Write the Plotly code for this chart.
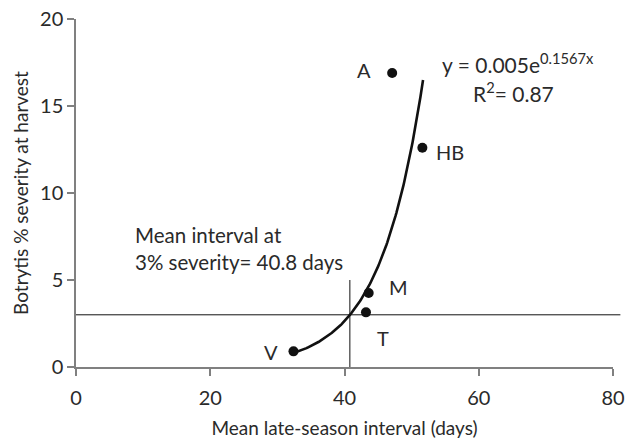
import plotly.graph_objects as go
import numpy as np

# Data points (site codes)
sites = ["A", "HB", "M", "T", "V"]
interval_days = [47.1, 51.6, 43.6, 43.2, 32.4]
severity_pct = [16.9, 12.6, 4.25, 3.14, 0.90]

# Exponential trendline from the chart: y = 0.005 e^(0.1567 x)
fit_a = 0.005
fit_b = 0.1567
fit_x_start = 32.4
fit_x_end = 51.7

# Reference lines
severity_threshold = 3.0
interval_at_threshold = 40.8
vline_top = 5.0
hline_x_end = 81.1

x_ticks = [0, 20, 40, 60, 80]
y_ticks = [0, 5, 10, 15, 20]
x_range = [0, 80]
y_range = [0, 20]

FONT = "Lato"
TXT = "#2a2a2a"
AX = "#808080"

fit_x = np.linspace(fit_x_start, fit_x_end, 200)
fit_y = fit_a * np.exp(fit_b * fit_x)

fig = go.Figure()

fig.add_trace(go.Scatter(
    x=[interval_at_threshold, interval_at_threshold], y=[0, vline_top],
    mode="lines", line=dict(color="#111111", width=1), hoverinfo="skip"))

fig.add_trace(go.Scatter(
    x=fit_x, y=fit_y, mode="lines",
    line=dict(color="#111111", width=2.6), hoverinfo="skip"))

fig.add_trace(go.Scatter(
    x=interval_days, y=severity_pct, mode="markers",
    marker=dict(color="#111111", size=10), text=sites))

fig.add_shape(type="line", xref="paper", yref="paper",
              x0=0, x1=hline_x_end / x_range[1],
              y0=severity_threshold / y_range[1], y1=severity_threshold / y_range[1],
              line=dict(color="#111111", width=1))

# point labels: (xanchor, xshift, yshift)
label_pos = {
    "A": ("right", -19, 3),
    "HB": ("left", 12, -4),
    "M": ("left", 18, 6),
    "T": ("left", 9, -26),
    "V": ("right", -13, -1),
}
for s, xv, yv in zip(sites, interval_days, severity_pct):
    anc, xs, ys = label_pos[s]
    fig.add_annotation(x=xv, y=yv, text=s, showarrow=False, xanchor=anc,
                       yanchor="middle", xshift=xs, yshift=ys,
                       font=dict(family=FONT, size=20, color=TXT))

fig.add_annotation(x=54.2, y=17.45, xanchor="left", yanchor="middle",
                   text="y = 0.005e<sup>0.1567x</sup>", showarrow=False,
                   font=dict(family=FONT, size=21, color=TXT))
fig.add_annotation(x=58.9, y=15.8, xanchor="left", yanchor="middle",
                   text="R<sup>2</sup>= 0.87", showarrow=False,
                   font=dict(family=FONT, size=21, color=TXT))
fig.add_annotation(x=8.5, y=6.82, xanchor="left", yanchor="middle", align="left",
                   text="Mean interval at<br>3% severity= 40.8 days", showarrow=False,
                   font=dict(family=FONT, size=20.5, color=TXT))

fig.update_layout(
    width=639, height=443,
    margin=dict(l=76, r=26, t=19, b=76, autoexpand=False),
    paper_bgcolor="white", plot_bgcolor="white",
    showlegend=False,
    font=dict(family=FONT, size=18, color=TXT),
)
fig.update_xaxes(range=x_range, tickvals=x_ticks, ticks="outside", ticklen=7,
                 tickwidth=1.5, tickcolor=AX, showline=True, linecolor=AX,
                 linewidth=1.5, showgrid=False, zeroline=False,
                 ticklabelstandoff=5,
                 tickfont=dict(family=FONT, size=20, color=TXT),
                 title=dict(text="Mean late-season interval (days)", standoff=14,
                            font=dict(family=FONT, size=19, color=TXT)))
fig.update_yaxes(range=y_range, tickvals=y_ticks, ticks="outside", ticklen=7,
                 tickwidth=1.5, tickcolor=AX, showline=True, linecolor=AX,
                 linewidth=1.5, showgrid=False, zeroline=False,
                 tickfont=dict(family=FONT, size=20, color=TXT),
                 title=dict(text="Botrytis % severity at harvest", standoff=6,
                            font=dict(family=FONT, size=19, color=TXT)))

fig.write_html("out.html")
